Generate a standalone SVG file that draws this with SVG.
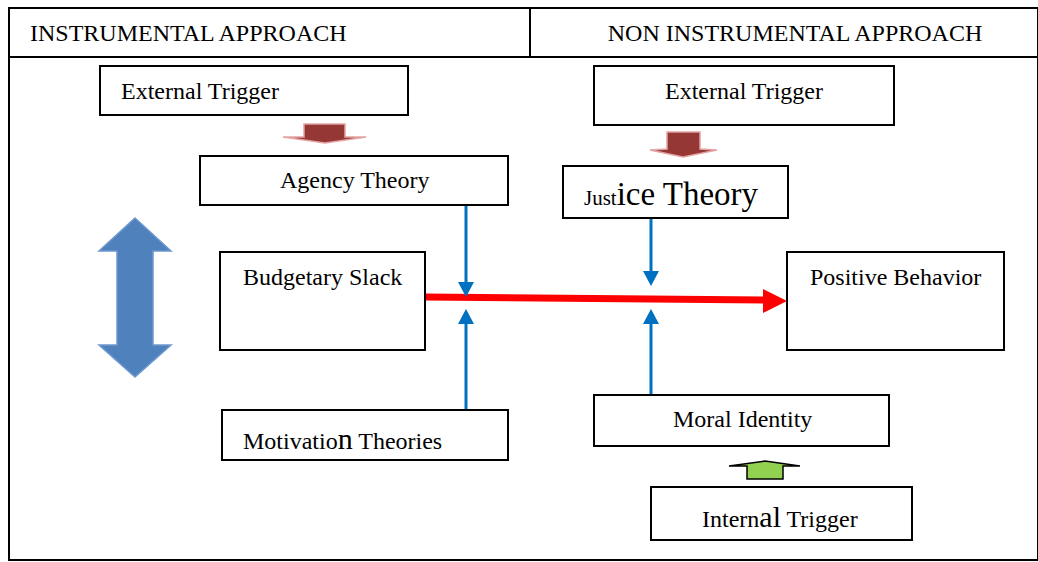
<svg xmlns="http://www.w3.org/2000/svg" width="1038" height="562" viewBox="0 0 1038 562">
<style>
.box{fill:#fff;stroke:#000;stroke-width:2}
.t{font-family:"Liberation Serif","Times New Roman",serif;font-size:24px;fill:#000}
.big{font-size:30px}
.blue{stroke:#0070c0;stroke-width:3;fill:none}
.bh{fill:#0070c0}
.dr{fill:#953735;stroke:#e3a3a2;stroke-width:1.5}
</style>
<rect width="1038" height="562" fill="#fff"/>
<g id="frame">
<rect x="9" y="8" width="1029" height="552" fill="none" stroke="#000" stroke-width="2"/>
<line x1="9" y1="57" x2="1038" y2="57" stroke="#000" stroke-width="2"/>
<line x1="530" y1="8" x2="530" y2="57" stroke="#000" stroke-width="2"/>
<text class="t" x="30" y="41">INSTRUMENTAL APPROACH</text>
<text class="t" x="795" y="41" text-anchor="middle">NON INSTRUMENTAL APPROACH</text>
</g>
<g id="connectors">
<polygon class="dr" points="304,124 345,124 345,137 366,137 325,143 283,137 304,137"/>
<polygon class="dr" points="667,132 700,132 700,149 717,150 683,157 650,150 667,149"/>
<polygon points="747,479 783,479 783,466 800,466 765,461 729,466 747,466" fill="#92d050" stroke="#000" stroke-width="1.5"/>
<polygon points="135,218 171,251 153,251 153,345 171,345 135,377 99,345 117,345 117,251 99,251" fill="#4f81bd" stroke="#6d98d0" stroke-width="1.5"/>
<line x1="425" y1="297" x2="766" y2="300" stroke="#ff0000" stroke-width="7"/>
<polygon points="763,289 787,301 763,313" fill="#ff0000"/>
<line class="blue" x1="466" y1="206" x2="466" y2="284"/>
<polygon class="bh" points="458,282 474,282 466,297"/>
<line class="blue" x1="466" y1="410" x2="466" y2="322"/>
<polygon class="bh" points="458,324 474,324 466,309"/>
<line class="blue" x1="651" y1="219" x2="651" y2="273"/>
<polygon class="bh" points="643,271 659,271 651,286"/>
<line class="blue" x1="651" y1="395" x2="651" y2="322"/>
<polygon class="bh" points="643,324 659,324 651,309"/>
</g>
<g id="ext-left">
<rect class="box" x="100" y="66" width="308" height="49"/>
<text class="t" x="121" y="99">External Trigger</text>
</g>
<g id="agency">
<rect class="box" x="200" y="156" width="308" height="49"/>
<text class="t" x="280" y="188">Agency Theory</text>
</g>
<g id="budget">
<rect class="box" x="220" y="252" width="205" height="98"/>
<text class="t" x="243" y="285">Budgetary Slack</text>
</g>
<g id="motivation">
<rect class="box" x="222" y="410" width="286" height="50"/>
<text class="t" x="243" y="449">Motivatio<tspan class="big">n</tspan> Theories</text>
</g>
<g id="ext-right">
<rect class="box" x="594" y="66" width="300" height="59"/>
<text class="t" x="665" y="99">External Trigger</text>
</g>
<g id="justice">
<rect class="box" x="563" y="166" width="225" height="52"/>
<text class="t" x="584" y="205"><tspan font-size="21px">Just</tspan><tspan font-size="33px">ice Theory</tspan></text>
</g>
<g id="positive">
<rect class="box" x="787" y="252" width="217" height="98"/>
<text class="t" x="810" y="285">Positive Behavior</text>
</g>
<g id="moral">
<rect class="box" x="594" y="395" width="295" height="51"/>
<text class="t" x="673" y="427">Moral Identity</text>
</g>
<g id="internal">
<rect class="box" x="651" y="487" width="261" height="53"/>
<text class="t" x="702" y="527">Intern<tspan class="big">al</tspan> Trigger</text>
</g>
</svg>
